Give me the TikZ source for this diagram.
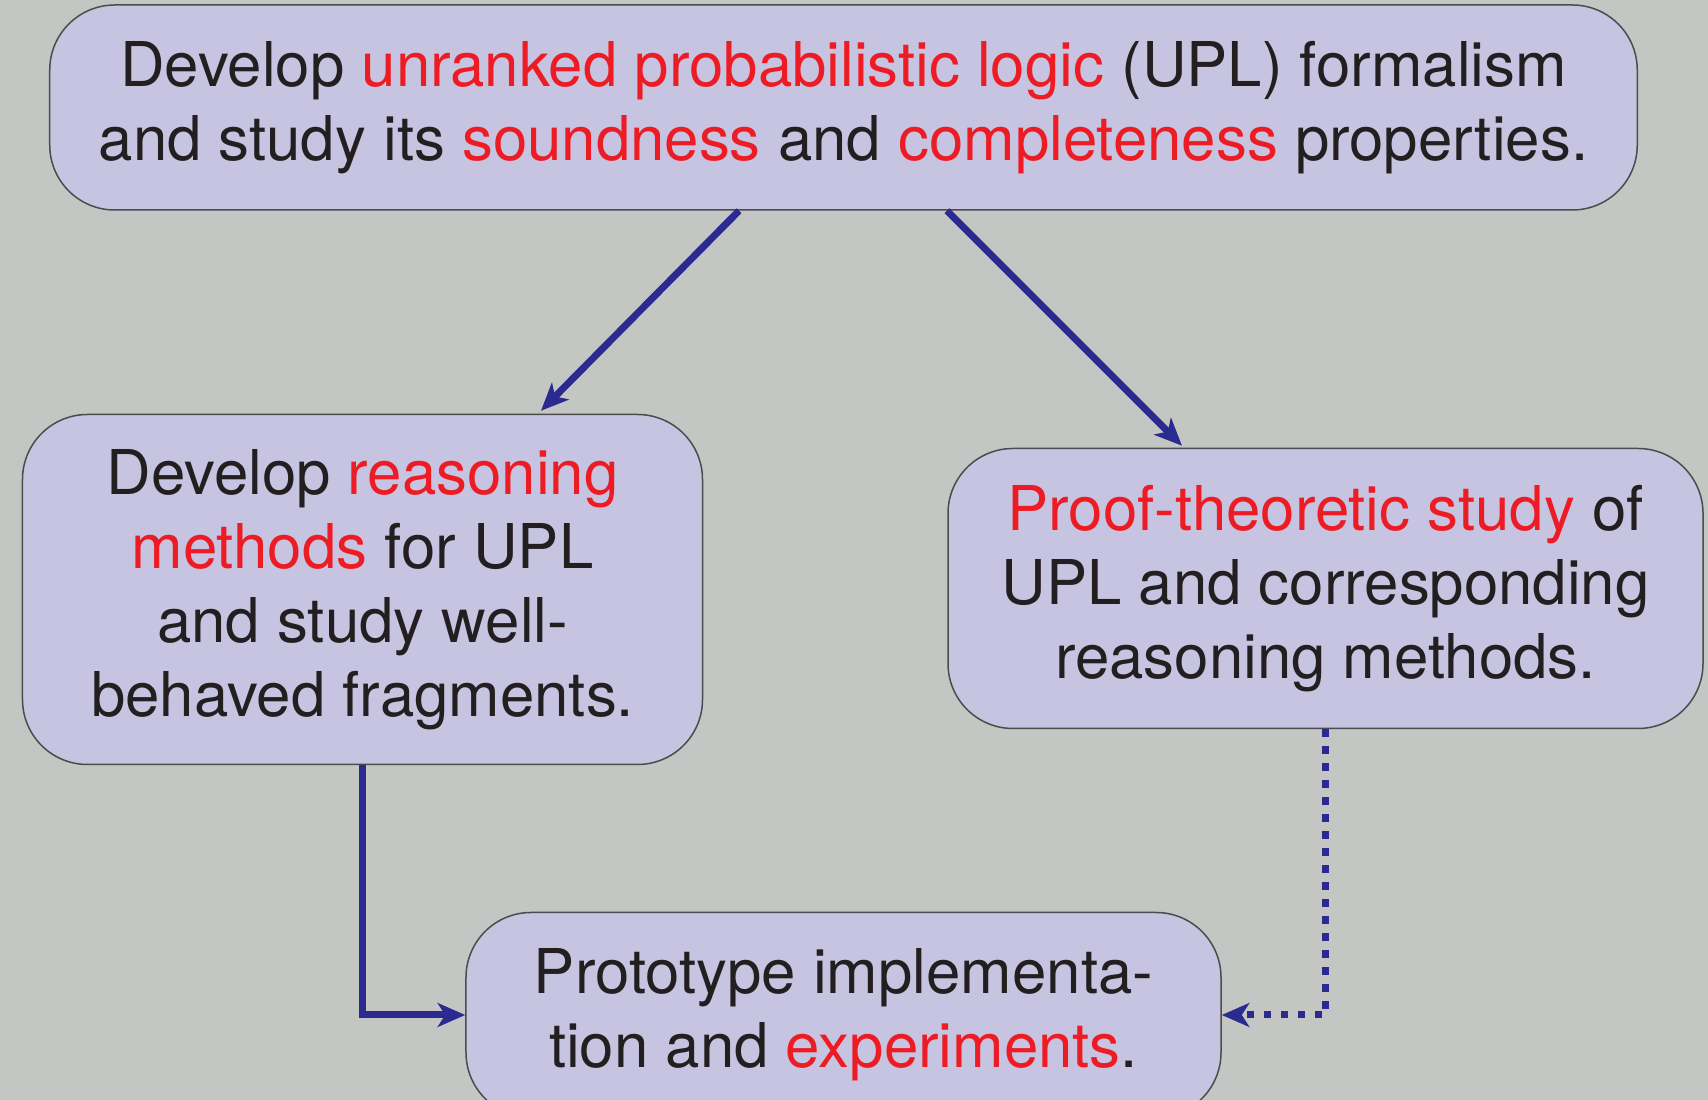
\documentclass[tikz,border=0pt]{standalone}
\usepackage{fontspec}
\setmainfont{TeX Gyre Heros}
\usetikzlibrary{arrows.meta,calc}
\definecolor{bggray}{HTML}{C4C6C3}
\definecolor{boxfill}{HTML}{C7C4E1}
\definecolor{hired}{HTML}{ED1C24}
\definecolor{arrblue}{HTML}{2B2A90}
\definecolor{inkblack}{HTML}{231F20}
\newcommand{\hl}[1]{\textcolor{hired}{#1}}
\begin{document}
\begin{tikzpicture}[x=0.4pt, y=0.4pt,
  goal/.style={draw=black!70, line width=0.6pt, fill=boxfill, rounded corners=26pt, align=center, text=inkblack, inner sep=0pt, font=\fontsize{24.7}{29.6}\selectfont},
  arr/.style={draw=arrblue, line width=2.8pt, -{Stealth[length=11pt, width=9.5pt, inset=3pt]}}]
\useasboundingbox[fill=bggray] (0,0) rectangle (1708,1100);
\node[goal, minimum width=635pt, minimum height=82pt] (upl) at (843.5,992.5) {Develop \hl{unranked probabilistic logic} (UPL) formalism\\and study its \hl{soundness} and \hl{completeness} properties.};
\node[goal, minimum width=272pt, minimum height=140pt] (reason) at (362.5,510.5) {Develop \hl{reasoning}\\\hl{methods} for UPL\\and study well-\\behaved fragments.};
\node[goal, minimum width=302pt, minimum height=112pt] (proof) at (1325.5,511.5) {\hl{Proof-theoretic study} of\\UPL and corresponding\\reasoning methods.};
\node[goal, minimum width=302pt, minimum height=82pt] (proto) at (843.5,85) {Prototype implementa-\\tion and \hl{experiments}.};
\draw[arr] ($(upl.south)+(-104.5,0)$) -- ($(reason.north)+(178.5,3)$);
\draw[arr] ($(upl.south)+(103.5,0)$) -- ($(proof.north)+(-143.5,2)$);
\draw[arr] (reason.south) |- (proto.west);
\draw[arr, dash pattern=on 3pt off 3.8pt] (proof.south) |- (proto.east);
\end{tikzpicture}
\end{document}
